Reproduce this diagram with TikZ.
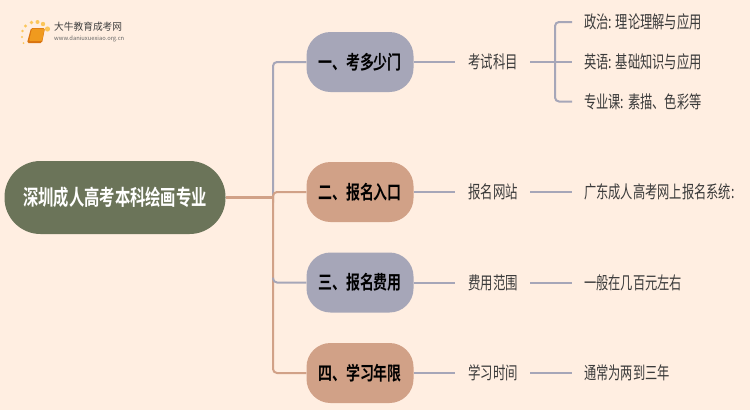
\documentclass[tikz,border=0pt]{standalone}
\usepackage{fontspec}
\setmainfont{Noto Sans CJK SC}
\newfontfamily\cjkb{Noto Sans CJK SC Bold}
\definecolor{bgc}{HTML}{FFEEE1}
\definecolor{rootc}{HTML}{6B7459}
\definecolor{grayc}{HTML}{A6A6B8}
\definecolor{tanc}{HTML}{D1A187}
\definecolor{txtc}{HTML}{3A3A3A}
\definecolor{bookc}{HTML}{F09A1E}
\definecolor{bookd}{HTML}{D9730F}
\definecolor{starc}{HTML}{FBC65A}
\tikzset{
  x=1pt,y=-1pt,
  rootbox/.style={draw=none,fill=rootc,rounded corners=36pt,minimum width=221pt,minimum height=73pt,inner sep=0pt,text=white,font=\cjkb\fontsize{21.5}{21.5}\selectfont},
  topicg/.style={fill=grayc,rounded corners=24pt,minimum width=107pt,minimum height=60pt,inner sep=0pt,text=black,font=\cjkb\fontsize{19}{19}\selectfont},
  topict/.style={topicg,fill=tanc},
  leaf/.style={inner sep=0pt,text=txtc,font=\fontsize{17.5}{17.5}\selectfont,anchor=west},
  wireg/.style={draw=grayc,line width=2pt,rounded corners=4pt},
  wiret/.style={draw=tanc,line width=2pt,rounded corners=4pt},
}
\newcommand{\sq}[2]{\scalebox{#1}[1]{#2}}
\begin{document}
\begin{tikzpicture}
\useasboundingbox[fill=bgc] (0,0) rectangle (750,410);
% logo
\foreach \a/\b/\r in {25.5/26/1.7,31.5/22.5/1.9,37.5/22/2,43/24/2.2,47.5/29/2.6,22.5/31/1.3,22/37/1.1,23.5/43/1}
  \fill[starc] (\a,\b) circle (\r);
\fill[bookd,rounded corners=1.5pt] (31,28) -- (45,28) -- (42,43) -- (27,43) -- cycle;
\fill[bookc,rounded corners=1pt] (32,28.5) -- (44.5,28.5) -- (42,41) -- (29,41) -- cycle;
\node[inner sep=0pt,anchor=west,text=black!75,font=\fontsize{10}{10}\selectfont] (logot) at (54,27) {\sq{.97}{大牛教育成考网}};
\node[inner sep=0pt,anchor=west,text=black!60,font=\fontsize{5.8}{6}\selectfont] (logou) at (54,39) {www.daniuxuexiao.org.cn};
% nodes
\node[rootbox] (root) at (115,197.5) {\sq{.713}{深圳成人高考本科绘画专业}};
\node[topicg] (t1) at (360,62) {\sq{.735}{一、考多少门}};
\node[topict] (t2) at (360,192) {\sq{.735}{二、报名入口}};
\node[topicg] (t3) at (360,282.5) {\sq{.735}{三、报名费用}};
\node[topict] (t4) at (360,373) {\sq{.735}{四、学习年限}};
\node[leaf] (s1) at (468,62) {\sq{.71}{考试科目}};
\node[leaf] (s2) at (468,192) {\sq{.71}{报名网站}};
\node[leaf] (s3) at (468,282.5) {\sq{.71}{费用范围}};
\node[leaf] (s4) at (468,373) {\sq{.71}{学习时间}};
\node[leaf] (l1) at (584,22) {\sq{.7}{政治: 理论理解与应用}};
\node[leaf] (l2) at (584,62) {\sq{.7}{英语: 基础知识与应用}};
\node[leaf] (l3) at (584,101.5) {\sq{.7}{专业课: 素描、色彩等}};
\node[leaf] (l4) at (584,192) {\sq{.7}{广东成人高考网上报名系统:}};
\node[leaf] (l5) at (584,282.5) {\sq{.7}{一般在几百元左右}};
\node[leaf] (l6) at (584,373) {\sq{.7}{通常为两到三年}};
\coordinate (hub) at (273,197.5);
\coordinate (mid) at (555,62);
% connectors
\draw[wireg] (hub) -- (hub |- t1) -- (t1.west);
\draw[wiret] (hub) -- (hub |- t4) -- (t4.west);
\draw[wireg] (hub |- t3) ++(0,-5) -- ++(0,5) -- (t3.west);
\draw[wiret] (hub) ++(0,5) -- ++(0,-10.5) -- (t2.west);
\draw[tanc,line width=3pt] (root.east) -- (hub);
\draw[wireg] (t1.east) -- ([xshift=-13pt]s1.west);
\draw[wireg] (t2.east) -- ([xshift=-13pt]s2.west);
\draw[wireg] (t3.east) -- ([xshift=-13pt]s3.west);
\draw[wireg] (t4.east) -- ([xshift=-13pt]s4.west);
\draw[wireg] ([xshift=12pt]s1.east) -- ([xshift=-12pt]l2.west);
\draw[wireg] ([xshift=-12pt]l1.west) -- (mid |- l1) -- (mid |- l3) -- ([xshift=-12pt]l3.west);
\draw[wireg] ([xshift=12pt]s2.east) -- ([xshift=-12pt]l4.west);
\draw[wireg] ([xshift=12pt]s3.east) -- ([xshift=-12pt]l5.west);
\draw[wireg] ([xshift=12pt]s4.east) -- ([xshift=-12pt]l6.west);
\end{tikzpicture}
\end{document}
